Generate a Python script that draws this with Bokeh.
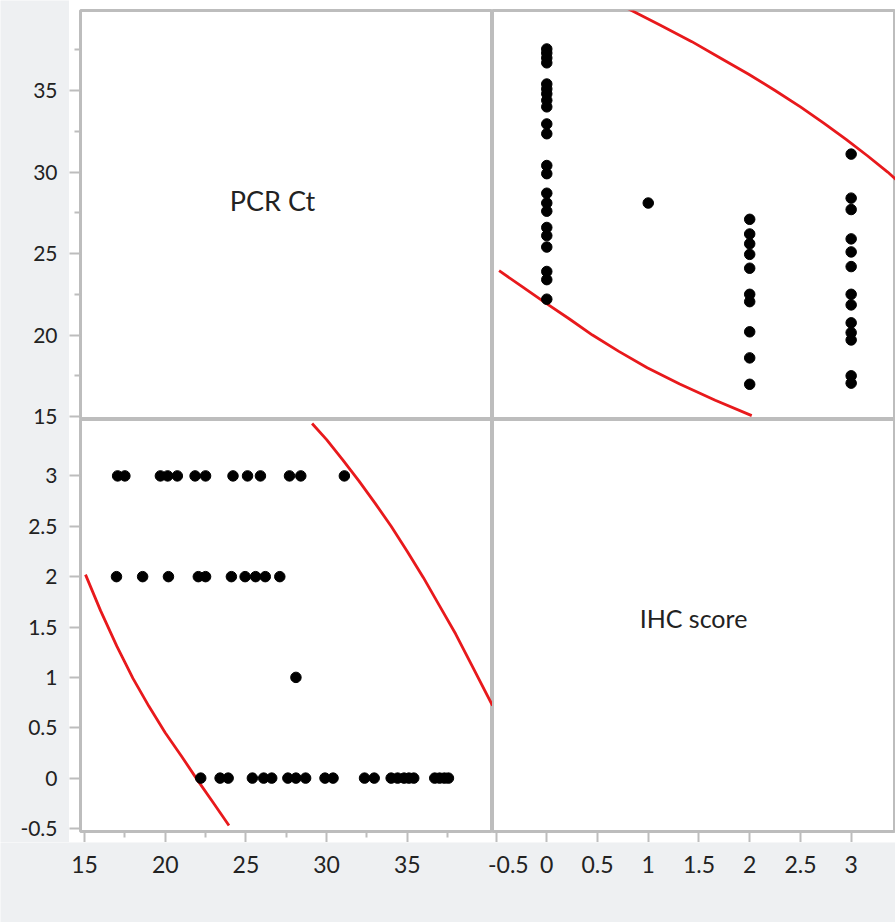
from bokeh.plotting import figure
from bokeh.layouts import gridplot, row, column
from bokeh.models import Range1d, LinearAxis, FixedTicker, Label, ColumnDataSource
from bokeh.embed import file_html
from bokeh.resources import INLINE

# ---- data: PCR Ct values grouped by IHC score ----
ihc_levels = [0, 1, 2, 3]
pcr_ihc0 = [22.2, 23.4, 23.9, 25.4, 26.1, 26.6, 27.6, 28.1, 28.7, 29.9, 30.4,
            32.35, 32.95, 34.0, 34.4, 34.8, 35.1, 35.4, 36.7, 37.0, 37.3, 37.55]
pcr_ihc1 = [28.1]
pcr_ihc2 = [16.98, 18.6, 20.2, 22.05, 22.5, 24.1, 24.95, 25.6, 26.2, 27.1]
pcr_ihc3 = [17.05, 17.5, 19.7, 20.15, 20.75, 21.85, 22.5, 24.2, 25.1, 25.9,
            27.7, 28.4, 31.1]

# 95% density ellipse: the two visible arcs
ell_low_pcr = [15.06, 16.0, 17.0, 18.0, 19.0, 20.0, 21.0, 22.0, 23.0, 23.95]
ell_low_ihc = [2.02, 1.66, 1.31, 0.99, 0.71, 0.45, 0.22, -0.02, -0.25, -0.47]
ell_up_pcr = [29.1, 30.0, 31.0, 32.0, 33.0, 34.0, 35.0, 36.0, 37.0, 38.0, 39.0, 40.28]
ell_up_ihc = [3.52, 3.36, 3.16, 2.95, 2.73, 2.50, 2.25, 1.99, 1.71, 1.43, 1.12, 0.72]

pcr_major = [15, 20, 25, 30, 35]
pcr_minor = [17.5, 22.5, 27.5, 32.5, 37.5]
ihc_major = [-0.5, 0, 0.5, 1, 1.5, 2, 2.5, 3]

groups = [pcr_ihc0, pcr_ihc1, pcr_ihc2, pcr_ihc3]
pcr_ct = [v for g in groups for v in g]
ihc_score = [lvl for lvl, g in zip(ihc_levels, groups) for _ in g]

# ---- style ----
BG = "#eef0f2"
BORDER = "#bdbdbd"
TXT = "#222222"
FONT = "Lato"
RED = "#e8191c"

# panel ranges
pcr_x = Range1d(14.75, 40.28)
pcr_y = Range1d(14.82, 39.91)
ihc_x = Range1d(-0.535, 3.437)
ihc_y = Range1d(-0.53, 3.56)

# geometry (px)
W = 895
LAB_W = 69          # label strip on the left
TICK = 11           # white tick strip
LF_W = 412          # left panel frame width
RF_W = W - LAB_W - TICK - LF_W   # right panel frame width
TOP_B = 10          # border above top row
TF_H = 409          # top frame height
BF_H = 412          # bottom frame height
BOT_H = 80          # x tick label strip
LAB_DY = 22         # x label centre below the strip top
MAIN_H = TOP_B + TF_H + BF_H + TICK


def make_fig(xr, yr, w, h, left=0, bottom=0, top=0):
    p = figure(width=w, height=h, x_range=xr, y_range=yr,
               output_backend="svg", toolbar_location=None,
               x_axis_location=None, y_axis_location=None,
               min_border=0, min_border_left=left, min_border_bottom=bottom,
               min_border_top=top, min_border_right=0)
    p.grid.visible = False
    p.border_fill_color = "white"
    p.background_fill_color = "white"
    p.outline_line_color = BORDER
    p.outline_line_width = 3
    p.outline_line_alpha = 1.0
    return p


def tick_axis(p, side, major, minor):
    ax = LinearAxis(ticker=FixedTicker(ticks=major, minor_ticks=minor))
    ax.axis_line_color = None
    ax.major_tick_line_color = BORDER
    ax.major_tick_line_width = 2
    ax.major_tick_out = TICK
    ax.major_tick_in = 0
    ax.minor_tick_line_color = BORDER
    ax.minor_tick_line_width = 2
    ax.minor_tick_out = 6
    ax.minor_tick_in = 0
    ax.major_label_text_color = None
    ax.major_label_text_font_size = "0px"
    ax.major_label_standoff = 0
    p.add_layout(ax, side)


# top-left: PCR Ct label
p11 = make_fig(pcr_x, pcr_y, TICK + LF_W, TOP_B + TF_H, left=TICK, top=TOP_B)
tick_axis(p11, "left", pcr_major, pcr_minor)
p11.add_layout(Label(x=26.65, y=28.25, text="PCR Ct", text_align="center",
                     text_baseline="middle", text_font=FONT,
                     text_font_size="27px", text_color=TXT))

# top-right: x = IHC, y = PCR
p12 = make_fig(ihc_x, pcr_y, RF_W, TOP_B + TF_H, top=TOP_B)
p12.multi_line(xs=[ell_low_ihc, ell_up_ihc], ys=[ell_low_pcr, ell_up_pcr],
               line_color=RED, line_width=2.8)
p12.scatter(ihc_score, pcr_ct, size=10.5, color="black")

# bottom-left: x = PCR, y = IHC
p21 = make_fig(pcr_x, ihc_y, TICK + LF_W, BF_H + TICK, left=TICK, bottom=TICK)
tick_axis(p21, "left", ihc_major, [])
tick_axis(p21, "below", pcr_major, pcr_minor)
p21.multi_line(xs=[ell_low_pcr, ell_up_pcr], ys=[ell_low_ihc, ell_up_ihc],
               line_color=RED, line_width=2.8)
p21.scatter(pcr_ct, ihc_score, size=10.5, color="black")

# bottom-right: IHC score label
p22 = make_fig(ihc_x, ihc_y, RF_W, BF_H + TICK, bottom=TICK)
tick_axis(p22, "below", ihc_major, [])
p22.add_layout(Label(x=1.446, y=1.594, text="IHC score", text_align="center",
                     text_baseline="middle", text_font=FONT,
                     text_font_size="25px", text_color=TXT))

# ---- y tick labels (left strip), on the same scales as the panels ----
pcr_yppu = TF_H / (pcr_y.end - pcr_y.start)
ihc_yppu = BF_H / (ihc_y.end - ihc_y.start)
pcr_ylab = Range1d(pcr_y.end - (MAIN_H - TOP_B) / pcr_yppu, pcr_y.end + TOP_B / pcr_yppu)
ihc_ylab = Range1d(ihc_y.start - TICK / ihc_yppu, ihc_y.end + (TOP_B + TF_H) / ihc_yppu)

lf = figure(width=LAB_W, height=MAIN_H, x_range=Range1d(0, 1), y_range=pcr_ylab,
            output_backend="svg", toolbar_location=None,
            x_axis_location=None, y_axis_location=None, min_border=0)
lf.extra_y_ranges = {"ihc": ihc_ylab}
lf.grid.visible = False
lf.outline_line_color = None
lf.background_fill_color = BG
lf.border_fill_color = BG
lf.text(x=[1] * len(pcr_major), y=pcr_major,
        text=[f"{v:g}" for v in pcr_major], x_offset=-12,
        text_align="right", text_baseline="middle", text_font_size="21px",
        text_color=TXT, text_font={"value": FONT})
lf.text(x=[1] * len(ihc_major), y=ihc_major, y_range_name="ihc",
        text=[f"{v:g}" for v in ihc_major], x_offset=-12,
        text_align="right", text_baseline="middle", text_font_size="21px",
        text_color=TXT, text_font={"value": FONT})

# ---- x tick labels (bottom strip), on the same scales as the panels ----
pcr_xppu = LF_W / (pcr_x.end - pcr_x.start)
ihc_xppu = RF_W / (ihc_x.end - ihc_x.start)
pcr_xlab_start = pcr_x.start - (LAB_W + TICK) / pcr_xppu
pcr_xlab = Range1d(pcr_xlab_start, pcr_xlab_start + W / pcr_xppu)
ihc_xlab_start = ihc_x.start - (LAB_W + TICK + LF_W) / ihc_xppu
ihc_xlab = Range1d(ihc_xlab_start, ihc_xlab_start + W / ihc_xppu)

bf = figure(width=W, height=BOT_H, x_range=pcr_xlab, y_range=Range1d(0, BOT_H),
            output_backend="svg", toolbar_location=None,
            x_axis_location=None, y_axis_location=None, min_border=0)
bf.extra_x_ranges = {"ihc": ihc_xlab}
bf.grid.visible = False
bf.outline_line_color = None
bf.background_fill_color = BG
bf.border_fill_color = BG
bf.text(x=pcr_major, y=[BOT_H - LAB_DY] * len(pcr_major),
        text=[f"{v:g}" for v in pcr_major],
        text_align="center", text_baseline="middle", text_font_size="23px",
        text_color=TXT, text_font={"value": FONT})
# first IHC label is nudged right so it stays inside its own panel
ihc_src = ColumnDataSource(dict(
    x=ihc_major,
    y=[BOT_H - LAB_DY] * len(ihc_major),
    text=[f"{v:g}" for v in ihc_major],
    align=["left"] + ["center"] * (len(ihc_major) - 1),
    dx=[-8] + [0] * (len(ihc_major) - 1),
))
bf.text(x="x", y="y", text="text", source=ihc_src, x_range_name="ihc",
        text_align="align", x_offset="dx",
        text_baseline="middle", text_font_size="23px",
        text_color=TXT, text_font={"value": FONT})

grid = gridplot([[p11, p12], [p21, p22]], toolbar_location=None)
layout = column(row(lf, grid), bf)

open("out.html", "w").write(file_html(layout, INLINE))
